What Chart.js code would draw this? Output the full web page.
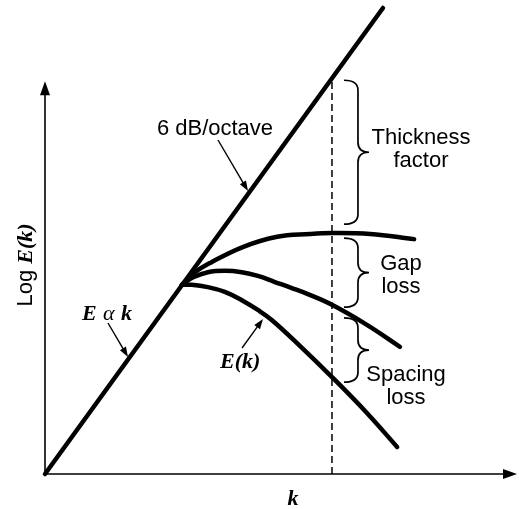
<!DOCTYPE html>
<html>
<head>
<meta charset="utf-8">
<script src="https://cdn.jsdelivr.net/npm/chart.js@4"></script>
<style>
  html, body { margin: 0; padding: 0; background: #fff; }
  #wrap { width: 519px; height: 509px; position: relative; }
</style>
</head>
<body>
<div id="wrap"><canvas id="c"></canvas></div>
<script>
// ---- data (x = k, y = Log E(k), arbitrary units) ----
const slopeLineX = [0, 7.16];
const slopeLineY = [0, 10];

const thickX = [2.90, 3.18, 3.50, 4.19, 4.92, 5.61, 6.08, 6.89, 7.82];
const thickY = [4.06, 4.33, 4.53, 4.87, 5.09, 5.15, 5.17, 5.15, 5.04];

const gapX = [2.90, 3.14, 3.45, 3.81, 4.17, 4.51, 4.87, 5.23, 5.57, 6.08, 6.82, 7.52];
const gapY = [4.06, 4.22, 4.33, 4.36, 4.33, 4.25, 4.12, 3.99, 3.86, 3.63, 3.20, 2.73];

const ekX = [2.90, 3.11, 3.45, 3.81, 4.17, 4.51, 4.81, 5.40, 6.08, 6.82, 7.46];
const ekY = [4.06, 4.06, 4.01, 3.91, 3.73, 3.52, 3.30, 2.75, 2.08, 1.31, 0.58];

const markerK = 6.08;
const markerTopY = 8.45;

// brace spans (y ranges) at the marker
const braceNames = ['Thickness factor', 'Gap loss', 'Spacing loss'];
const braceTop = [8.45, 5.06, 3.35];
const braceBottom = [5.36, 3.58, 1.97];

const axisMaxX = 10;
const axisMaxY = 8.43;

const toPts = (xs, ys) => xs.map((x, i) => ({ x, y: ys[i] }));

// ---- annotation styling ----
const SANS = '22px "Liberation Sans", Arial, sans-serif';
const SERIF = 'italic bold 22px "Liberation Serif", "DejaVu Serif", serif';

const textLabels = [
  { t: '6 dB/octave', x: 215, y: 135, font: SANS },
  { t: 'Thickness', x: 421, y: 144, font: SANS },
  { t: 'factor', x: 421, y: 167, font: SANS },
  { t: 'Gap', x: 401, y: 270, font: SANS },
  { t: 'loss', x: 401, y: 293, font: SANS },
  { t: 'Spacing', x: 406, y: 381, font: SANS },
  { t: 'loss', x: 406, y: 404, font: SANS },
  { t: 'k', x: 293, y: 505, font: SERIF }
];

const pointerArrows = [
  { x1: 218, y1: 140, x2: 248, y2: 191 },
  { x1: 108, y1: 323, x2: 128, y2: 357 },
  { x1: 242, y1: 348, x2: 263, y2: 319 }
];

function arrowHead(ctx, x1, y1, x2, y2, len, half) {
  const a = Math.atan2(y2 - y1, x2 - x1);
  ctx.beginPath();
  ctx.moveTo(x2, y2);
  ctx.lineTo(x2 - len * Math.cos(a) + half * Math.sin(a), y2 - len * Math.sin(a) - half * Math.cos(a));
  ctx.lineTo(x2 - len * Math.cos(a) - half * Math.sin(a), y2 - len * Math.sin(a) + half * Math.cos(a));
  ctx.closePath();
  ctx.fill();
}

const decor = {
  id: 'decor',
  beforeDatasetsDraw(chart) {
    const ctx = chart.ctx;
    const xs = chart.scales.x, ys = chart.scales.y;
    const ox = xs.getPixelForValue(0), oy = ys.getPixelForValue(0);
    const ex = xs.getPixelForValue(axisMaxX), ey = ys.getPixelForValue(axisMaxY);
    ctx.save();
    ctx.strokeStyle = '#000';
    ctx.fillStyle = '#000';
    ctx.lineWidth = 1.6;
    ctx.beginPath();
    ctx.moveTo(ox, oy); ctx.lineTo(ex - 8, oy);
    ctx.moveTo(ox, oy); ctx.lineTo(ox, ey + 8);
    ctx.stroke();
    arrowHead(ctx, ox, oy, ex, oy, 14, 5);
    arrowHead(ctx, ox, oy, ox, ey, 14, 5);
    ctx.restore();
  },
  afterDatasetsDraw(chart) {
    const ctx = chart.ctx;
    const xs = chart.scales.x, ys = chart.scales.y;
    ctx.save();
    ctx.strokeStyle = '#000';
    ctx.fillStyle = '#000';
    // braces
    ctx.lineWidth = 1.7;
    const mx = xs.getPixelForValue(markerK);
    braceTop.forEach((t, i) => {
      const y1 = ys.getPixelForValue(t), y2 = ys.getPixelForValue(braceBottom[i]);
      const x0 = mx + 12, x1 = mx + 26, x2 = mx + 37;
      const ym = (y1 + y2) / 2, r = Math.min(10, (y2 - y1) / 4);
      ctx.beginPath();
      ctx.moveTo(x0, y1);
      ctx.quadraticCurveTo(x1, y1, x1, y1 + r);
      ctx.lineTo(x1, ym - r);
      ctx.quadraticCurveTo(x1, ym, x2, ym);
      ctx.quadraticCurveTo(x1, ym, x1, ym + r);
      ctx.lineTo(x1, y2 - r);
      ctx.quadraticCurveTo(x1, y2, x0, y2);
      ctx.stroke();
    });
    // pointer arrows
    ctx.lineWidth = 1.4;
    pointerArrows.forEach(a => {
      const ang = Math.atan2(a.y2 - a.y1, a.x2 - a.x1);
      ctx.beginPath();
      ctx.moveTo(a.x1, a.y1);
      ctx.lineTo(a.x2 - 6 * Math.cos(ang), a.y2 - 6 * Math.sin(ang));
      ctx.stroke();
      arrowHead(ctx, a.x1, a.y1, a.x2, a.y2, 10, 3.5);
    });
    // texts
    ctx.textAlign = 'center';
    ctx.textBaseline = 'alphabetic';
    textLabels.forEach(l => {
      ctx.font = l.font;
      ctx.fillText(l.t, l.x, l.y);
    });
    // E alpha k
    ctx.textAlign = 'left';
    ctx.font = SERIF;
    ctx.fillText('E', 82, 320);
    ctx.font = 'italic 22px "Liberation Serif", "DejaVu Serif", serif';
    ctx.fillText('\u03B1', 103, 320);
    ctx.font = SERIF;
    ctx.fillText('k', 121, 320);
    // E(k)
    ctx.fillText('E(k)', 220, 368);
    // rotated y title: Log E(k)
    ctx.translate(32, 265);
    ctx.rotate(-Math.PI / 2);
    ctx.font = SANS;
    const w1 = ctx.measureText('Log ').width;
    ctx.font = SERIF;
    const w2 = ctx.measureText('E(k)').width;
    let sx = -(w1 + w2) / 2;
    ctx.font = SANS;
    ctx.fillText('Log ', sx, 0);
    ctx.font = SERIF;
    ctx.fillText('E(k)', sx + w1, 0);
    ctx.restore();
  }
};

const curveStyle = {
  borderColor: '#000', borderWidth: 4.5, pointRadius: 0, showLine: true,
  fill: false, tension: 0.4, borderCapStyle: 'round', clip: false
};

new Chart(document.getElementById('c'), {
  type: 'scatter',
  data: {
    datasets: [
      { label: '6 dB/octave', data: toPts(slopeLineX, slopeLineY), ...curveStyle, tension: 0 },
      { label: 'Thickness', data: toPts(thickX, thickY), ...curveStyle },
      { label: 'Gap', data: toPts(gapX, gapY), ...curveStyle },
      { label: 'E(k)', data: toPts(ekX, ekY), ...curveStyle },
      { label: 'marker', data: [{ x: markerK, y: 0 }, { x: markerK, y: markerTopY }],
        borderColor: '#000', borderWidth: 1.5, borderDash: [7, 4], pointRadius: 0, showLine: true, clip: false }
    ]
  },
  options: {
    responsive: true,
    maintainAspectRatio: false,
    animation: false,
    events: [],
    layout: { padding: { left: 45, right: 2, top: 8, bottom: 35 } },
    plugins: { legend: { display: false }, tooltip: { enabled: false } },
    scales: {
      x: { type: 'linear', min: 0, max: 10, display: false },
      y: { type: 'linear', min: 0, max: 10, display: false }
    }
  },
  plugins: [decor]
});
</script>
</body>
</html>
